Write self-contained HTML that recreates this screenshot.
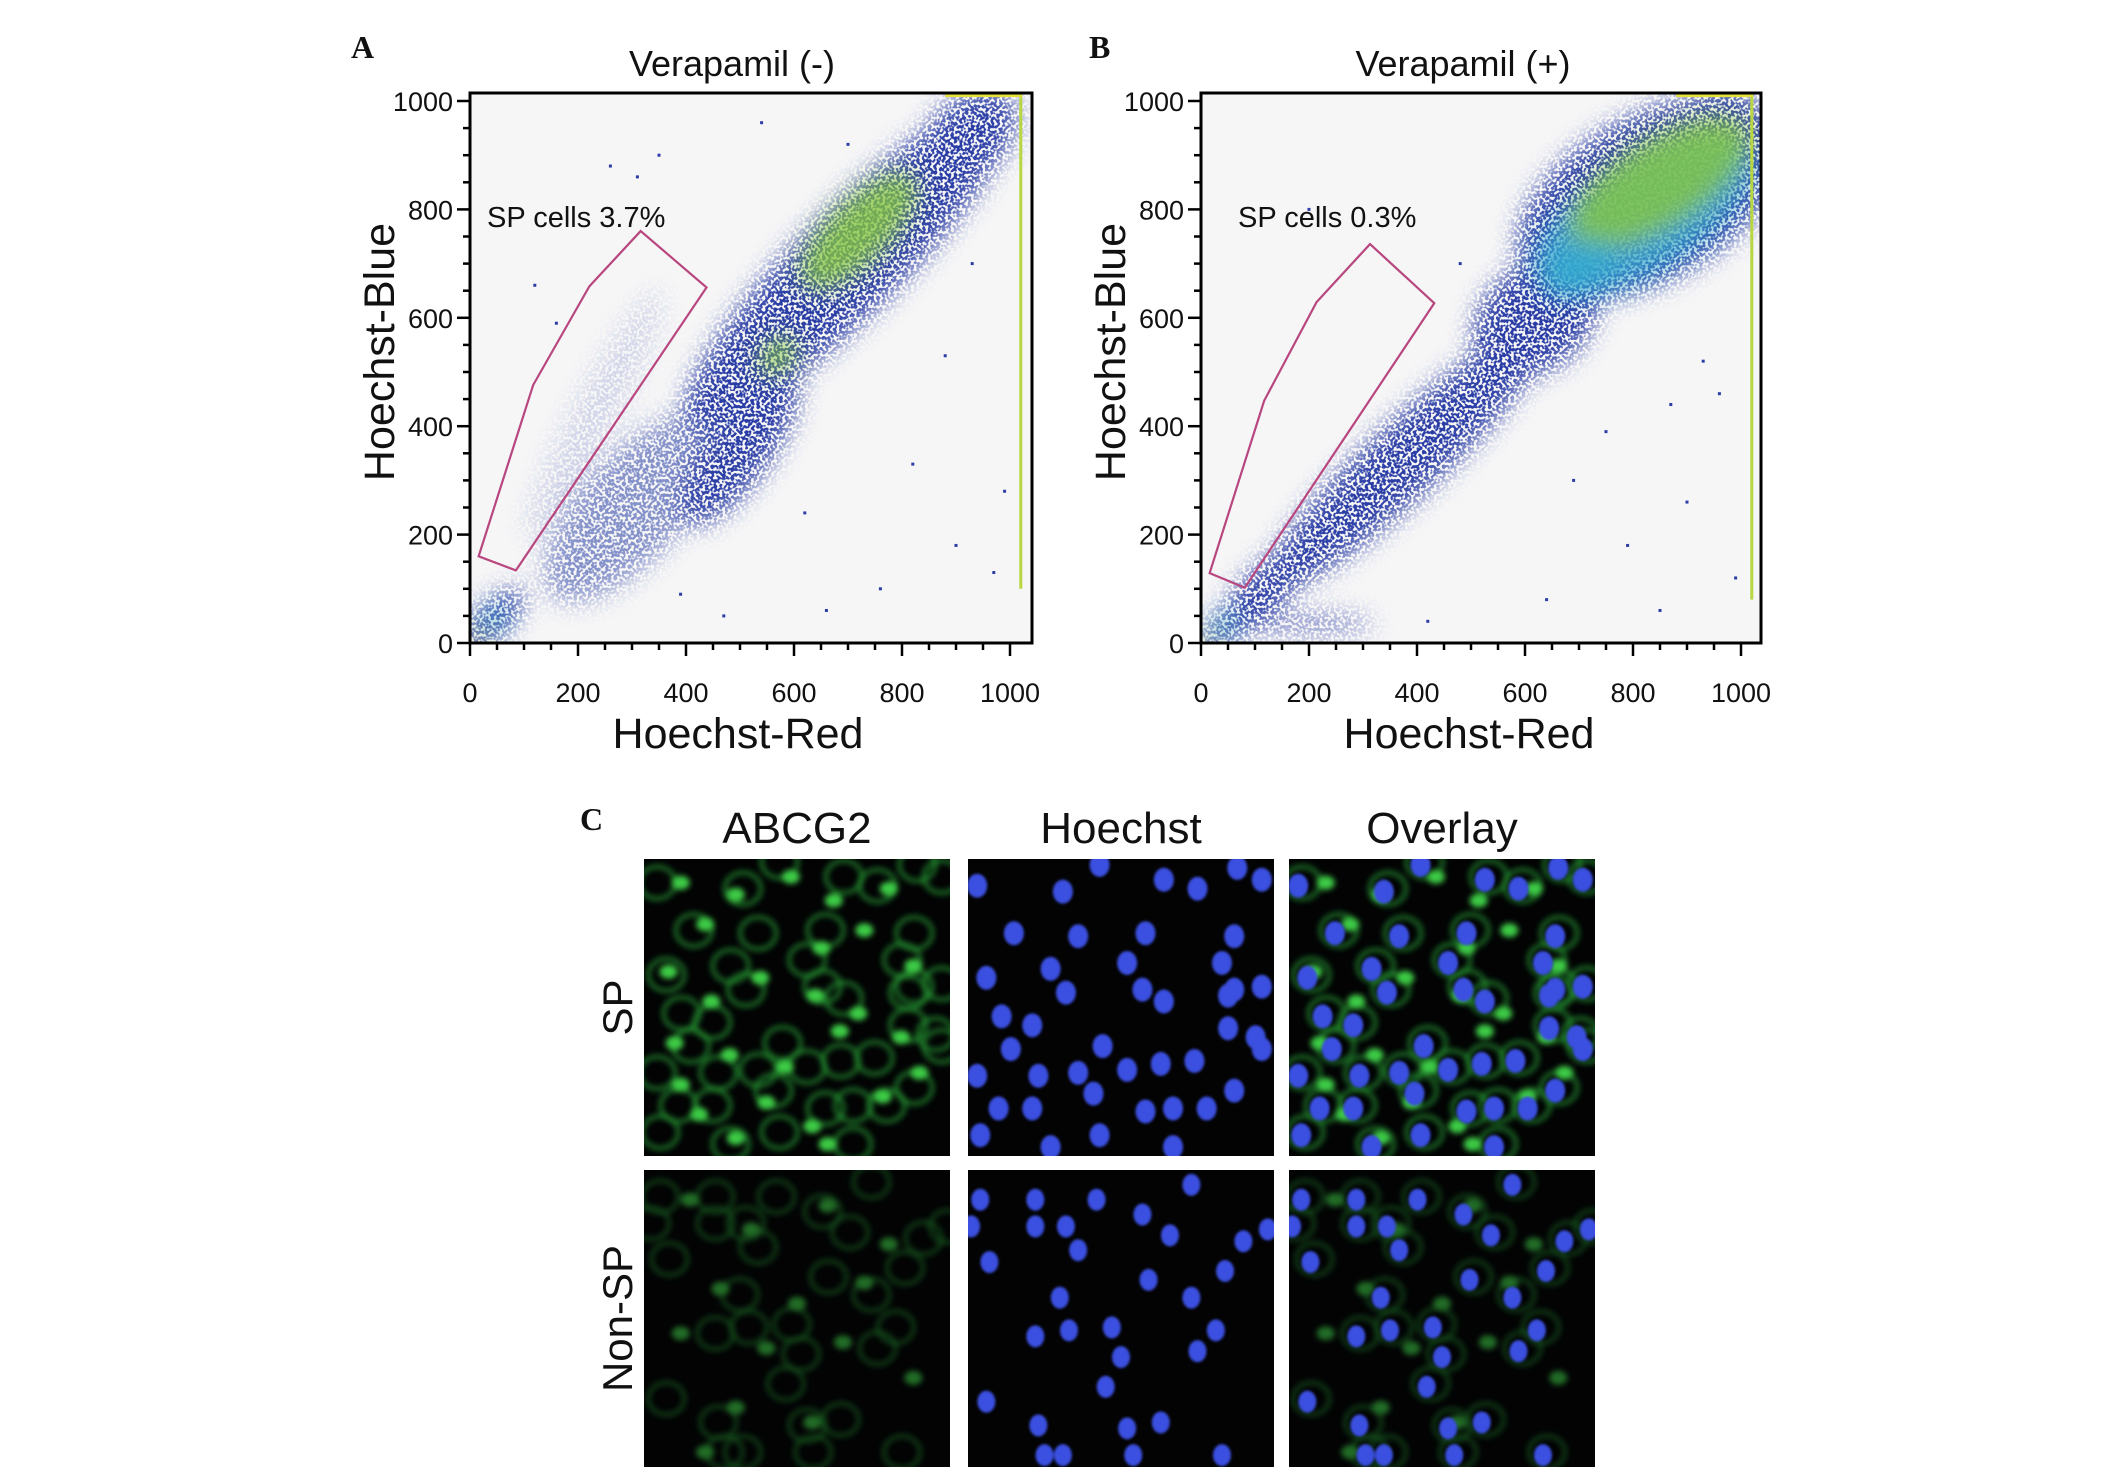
<!DOCTYPE html>
<html><head><meta charset="utf-8">
<style>
html,body{margin:0;padding:0;background:#fff;}
svg{display:block;}
text{font-family:"Liberation Sans",sans-serif;fill:#111;}
.serif{font-family:"Liberation Serif",serif;font-weight:bold;}
</style></head>
<body>
<svg id="fig" width="2126" height="1475" viewBox="0 0 2126 1475" xmlns="http://www.w3.org/2000/svg">
<defs>
  <filter id="blurA" x="-50%" y="-50%" width="200%" height="200%"><feGaussianBlur stdDeviation="12"/></filter>
  <filter id="speck" x="0" y="0" width="100%" height="100%" filterUnits="objectBoundingBox">
    <feGaussianBlur in="SourceGraphic" stdDeviation="12" result="b"/>
    <feTurbulence type="fractalNoise" baseFrequency="0.35" numOctaves="1" seed="3" result="n"/>
    <feColorMatrix in="n" type="matrix" values="0 0 0 0 0  0 0 0 0 0  0 0 0 0 0  0 0 0 -9 5.2" result="m"/>
    <feComposite in="b" in2="m" operator="in"/>
  </filter>
  <filter id="glow" x="-50%" y="-50%" width="200%" height="200%"><feGaussianBlur stdDeviation="3"/></filter>
  <filter id="nuc" x="-50%" y="-50%" width="200%" height="200%"><feGaussianBlur stdDeviation="1.2"/></filter>
  <clipPath id="clipA"><rect x="470" y="93" width="562" height="550"/></clipPath>
  <clipPath id="clipB"><rect x="1201" y="93" width="560" height="550"/></clipPath>
</defs>
<g id="root"></g>
</svg>
<script>
// ---------- Flow cytometry data (data units 0-1000) ----------
const aBlobX = [700, 500, 300, 230, 40, 560, 920];
const aBlobY = [700, 360, 250, 420, 40, 520, 930];
const aBlobLen = [420, 170, 220, 260, 80, 70, 110];
const aBlobWid = [95, 60, 95, 40, 30, 40, 70];
const aBlobAng = [45, 55, 48, 62, 45, 50, 45];
const aBlobOp = [1, 1, 0.55, 0.18, 1, 1, 1];
const aCoreX = [720, 570, 35, 15];
const aCoreY = [760, 530, 35, 10];
const aCoreLen = [140, 40, 40, 18];
const aCoreWid = [55, 25, 14, 8];
const aCoreAng = [45, 45, 45, 45];
const aCoreLvl = [2, 2, 1, 3];
const aGateX = [16, 117, 221, 316, 438, 85];
const aGateY = [160, 476, 658, 760, 656, 134];
const aDotsX = [120, 880, 930, 820, 260, 310, 700, 350, 160, 760, 990, 620, 900, 470, 540, 970, 390, 660];
const aDotsY = [660, 530, 700, 330, 880, 860, 920, 900, 590, 100, 280, 240, 180, 50, 960, 130, 90, 60];

const bBlobX = [830, 380, 620, 120, 200, 50, 960];
const bBlobY = [820, 340, 600, 100, 35, 30, 940];
const bBlobLen = [270, 360, 130, 110, 120, 70, 90];
const bBlobWid = [150, 68, 95, 40, 20, 25, 80];
const bBlobAng = [30, 43, 40, 45, 0, 40, 30];
const bBlobOp = [1, 1, 1, 1, 0.6, 1, 1];
const bCoreX = [820, 850, 700, 35, 15];
const bCoreY = [790, 850, 690, 25, 8];
const bCoreLen = [230, 190, 70, 40, 15];
const bCoreWid = [100, 80, 40, 14, 7];
const bCoreAng = [32, 32, 40, 45, 45];
const bCoreLvl = [1, 2, 1, 1, 3];
const bGateX = [16, 117, 214, 313, 432, 81];
const bGateY = [129, 447, 629, 736, 627, 102];
const bDotsX = [870, 930, 750, 690, 790, 990, 480, 520, 640, 900, 850, 960, 200, 420];
const bDotsY = [440, 520, 390, 300, 180, 120, 700, 560, 80, 260, 60, 460, 800, 40];

const xTicks = [0, 200, 400, 600, 800, 1000];
const yTicks = [0, 200, 400, 600, 800, 1000];

// ---------- Microscopy nuclei (percent of panel) ----------
const spNucX = [3,31,43,64,75,88,96,15,36,58,87,6,27,52,83,32,57,64,87,96,11,21,14,44,63,85,94,3,23,36,52,74,87,10,21,41,58,67,78,43,67,4,27,96,85];
const spNucY = [9,11,2,7,10,3,7,25,26,25,26,40,37,35,35,45,44,48,44,43,53,56,64,63,69,57,60,73,73,72,71,68,78,84,84,79,85,84,84,93,97,93,97,64,46];
const nsNucX = [4,22,42,73,1,22,32,57,66,90,98,36,7,84,59,30,73,22,33,47,81,50,75,45,6,63,23,52,83,31,54,25];
const nsNucY = [10,10,10,5,19,19,19,15,22,24,20,27,31,34,37,43,43,56,54,53,54,63,61,73,78,85,86,87,96,96,96,96];
const spGreenX = [12,20,8,30,48,62,58,72,80,88,22,38,56,70,84,10,28,46,64,90,18,40,55,78,30,60,12];
const spGreenY = [8,22,38,12,6,14,30,24,10,36,48,40,46,52,60,62,66,70,58,72,86,82,90,80,94,96,76];
const nsGreenX = [15,35,60,80,25,50,72,12,40,65,88,30,55,20];
const nsGreenY = [10,20,12,25,40,45,38,55,60,58,70,80,85,95];

const NS = "http://www.w3.org/2000/svg";
const root = document.getElementById('root');
function mk(tag, attrs, parent) {
  const e = document.createElementNS(NS, tag);
  for (const k in attrs) e.setAttribute(k, attrs[k]);
  (parent || root).appendChild(e);
  return e;
}
function txt(s, attrs, parent) { const t = mk('text', attrs, parent); t.textContent = s; return t; }
const LV = ['#2c3ea6', '#33a9cf', '#86c540', '#f2ea1c'];

function drawPlot(P) {
  const g = mk('g', {});
  
  
  const sx = v => P.x0 + v * P.kx;
  const sy = v => P.y0 - v * P.ky;
  const bg = mk('rect', {x: P.x0, y: P.top, width: P.right - P.x0, height: P.y0 - P.top, fill: '#f6f6f7'}, g);
  
  
  const clip = mk('g', {'clip-path': 'url(#' + P.clip + ')'}, g);
  const blueG = mk('g', {filter: 'url(#speck)'}, clip);
  
  
  for (let i = 0; i < P.bx.length; i++) {
    const cx = sx(P.bx[i]), cy = sy(P.by[i]);
    const e = mk('ellipse', {cx: cx, cy: cy, rx: P.bl[i] * P.kx, ry: P.bw[i] * P.ky, fill: LV[0], opacity: P.bo[i],
      transform: 'rotate(' + (-P.ba[i]) + ' ' + cx + ' ' + cy + ')'}, blueG);
    
    
  }
  const coreG = mk('g', {filter: 'url(#blurA)'}, clip);
  for (let i = 0; i < P.cx.length; i++) {
    const cx = sx(P.cx[i]), cy = sy(P.cy[i]);
    const e = mk('ellipse', {cx: cx, cy: cy, rx: P.cl[i] * P.kx, ry: P.cw[i] * P.ky, fill: LV[P.cv[i]], opacity: 0.8,
      transform: 'rotate(' + (-P.ca[i]) + ' ' + cx + ' ' + cy + ')'}, coreG);
    
    
  }
  for (let i = 0; i < P.dx.length; i++) {
    const d = mk('rect', {x: sx(P.dx[i]) - 1.5, y: sy(P.dy[i]) - 1.5, width: 3, height: 3, fill: LV[0]}, clip);
    
    
  }
  const edge = mk('line', {x1: sx(1020), y1: sy(1012), x2: sx(1020), y2: sy(P.edgeLow), stroke: '#b8d640', 'stroke-width': 3}, clip);
  
  
  const topE = mk('line', {x1: sx(880), y1: sy(1010), x2: sx(1022), y2: sy(1010), stroke: '#e4e23a', 'stroke-width': 3}, clip);
  
  
  const pts = P.gx.map((v, i) => sx(v) + ',' + sy(P.gy[i])).join(' ');
  const gate = mk('polygon', {points: pts, fill: 'none', stroke: '#b8467f', 'stroke-width': 2.2}, g);
  
  
  const fr = mk('rect', {x: P.x0, y: P.top, width: P.right - P.x0, height: P.y0 - P.top, fill: 'none', stroke: '#000', 'stroke-width': 3}, g);
  
  
  for (let v = 0; v <= 1000; v += 50) {
    const major = v % 200 === 0;
    const L = major ? 13 : 7;
    mk('line', {x1: sx(v), y1: P.y0, x2: sx(v), y2: P.y0 + L, stroke: '#000', 'stroke-width': 2.5}, g);
    mk('line', {x1: P.x0, y1: sy(v), x2: P.x0 - L, y2: sy(v), stroke: '#000', 'stroke-width': 2.5}, g);
  }
  xTicks.forEach(v => {
    const t = txt(String(v), {x: sx(v), y: P.y0 + 59, 'font-size': 27, 'text-anchor': 'middle'}, g);
    
    
  });
  yTicks.forEach(v => {
    const t = txt(String(v), {x: P.x0 - 17, y: sy(v) + 10, 'font-size': 27, 'text-anchor': 'end'}, g);
    
    
  });
  const tt = txt(P.title, {x: P.x0 + 262, y: 76, 'font-size': 36, 'text-anchor': 'middle'}, g);
  
  
  const xl = txt('Hoechst-Red', {x: P.x0 + 268, y: 748, 'font-size': 43, 'text-anchor': 'middle'}, g);
  
  
  const yl = txt('Hoechst-Blue', {x: 0, y: 0, 'font-size': 43, 'text-anchor': 'middle',
    transform: 'translate(' + (P.x0 - 76) + ',352) rotate(-90)'}, g);
  
  
  const sp = txt(P.sp, {x: P.x0 + 17 + (P.spdx || 0), y: 227, 'font-size': 29}, g);
  
  
  const pl = txt(P.letter, {x: P.letterX, y: 58, 'font-size': 32, class: 'serif'}, g);
  
  
}

drawPlot({name: 'scatter-verapamil-minus', x0: 470, kx: 0.54, y0: 643, ky: 0.542, right: 1032, top: 93, clip: 'clipA',
  bx: aBlobX, by: aBlobY, bl: aBlobLen, bw: aBlobWid, ba: aBlobAng, bo: aBlobOp,
  cx: aCoreX, cy: aCoreY, cl: aCoreLen, cw: aCoreWid, ca: aCoreAng, cv: aCoreLvl, gx: aGateX, gy: aGateY, dx: aDotsX, dy: aDotsY,
  edgeLow: 100, title: 'Verapamil (-)', sp: 'SP cells 3.7%', letter: 'A', letterX: 351});
drawPlot({name: 'scatter-verapamil-plus', x0: 1201, kx: 0.54, y0: 643, ky: 0.542, right: 1761, top: 93, clip: 'clipB',
  bx: bBlobX, by: bBlobY, bl: bBlobLen, bw: bBlobWid, ba: bBlobAng, bo: bBlobOp,
  cx: bCoreX, cy: bCoreY, cl: bCoreLen, cw: bCoreWid, ca: bCoreAng, cv: bCoreLvl, gx: bGateX, gy: bGateY, dx: bDotsX, dy: bDotsY,
  edgeLow: 80, title: 'Verapamil (+)', sp: 'SP cells 0.3%', spdx: 20, letter: 'B', letterX: 1089});

// ---------- Panel C: microscopy ----------
const colX = [644, 968, 1289];
const rowY = [859, 1170];
const PW = 306, PH = 297;
function micro(px, py, kind, row, name) {
  const g = mk('g', {});
  
  
  const cid = 'c' + px + '_' + py;
  const cp = mk('clipPath', {id: cid}, g);
  mk('rect', {x: px, y: py, width: PW, height: PH}, cp);
  mk('rect', {x: px, y: py, width: PW, height: PH, fill: '#030304'}, g);
  const inner = mk('g', {'clip-path': 'url(#' + cid + ')'}, g);
  const sp = row === 0;
  if (kind !== 'blue') {
    const gx = sp ? spGreenX : nsGreenX, gy = sp ? spGreenY : nsGreenY;
    const gg = mk('g', {filter: 'url(#glow)', opacity: sp ? 0.95 : 0.5}, inner);
    const nx = sp ? spNucX : nsNucX, ny = sp ? spNucY : nsNucY;
    for (let i = 0; i < nx.length; i++) {
      mk('ellipse', {cx: px + nx[i] * PW / 100 + 4, cy: py + ny[i] * PH / 100 - 3, rx: 18, ry: 16, fill: 'none',
        stroke: '#2aa838', 'stroke-width': 5, opacity: 0.6}, gg);
    }
    for (let i = 0; i < gx.length; i++) {
      mk('ellipse', {cx: px + gx[i] * PW / 100, cy: py + gy[i] * PH / 100, rx: 9, ry: 7, fill: '#3fd64a'}, gg);
    }
  }
  if (kind !== 'green') {
    const nx = sp ? spNucX : nsNucX, ny = sp ? spNucY : nsNucY;
    const bg = mk('g', {filter: 'url(#nuc)'}, inner);
    for (let i = 0; i < nx.length; i++) {
      const n = mk('ellipse', {cx: px + nx[i] * PW / 100, cy: py + ny[i] * PH / 100, rx: sp ? 10 : 9, ry: sp ? 12 : 11, fill: '#3a4fe0'}, bg);
      
      
    }
  }
}
const kinds = ['green', 'blue', 'overlay'];
const kindNames = ['abcg2', 'hoechst', 'overlay'];
for (let r = 0; r < 2; r++) for (let c = 0; c < 3; c++)
  micro(colX[c], rowY[r], kinds[c], r, (r === 0 ? 'sp-' : 'non-sp-') + kindNames[c] + '-image');

const heads = ['ABCG2', 'Hoechst', 'Overlay'];
heads.forEach((h, i) => {
  const t = txt(h, {x: colX[i] + PW / 2, y: 843, 'font-size': 44, 'text-anchor': 'middle'});
  
  
});
const rowL = ['SP', 'Non-SP'];
rowL.forEach((h, i) => {
  const cy = rowY[i] + PH / 2;
  const t = txt(h, {x: 0, y: 0, 'font-size': 42, 'text-anchor': 'middle', transform: 'translate(632,' + cy + ') rotate(-90)'});
  
  
});
const cL = txt('C', {x: 580, y: 830, 'font-size': 32, class: 'serif'});


</script>
</body></html>
